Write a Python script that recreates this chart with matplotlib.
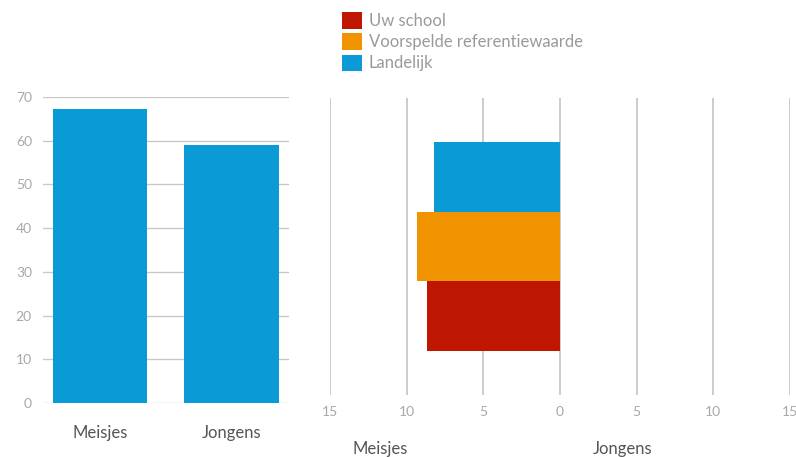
import matplotlib.pyplot as plt
from matplotlib.patches import Patch

plt.rcParams['font.family'] = ['Lato', 'DejaVu Sans']

# Linker grafiek: aandeel per geslacht
geslachten = ['Meisjes', 'Jongens']
aandeel = [67.3, 59.0]

# Rechter grafiek: waarden aan de kant van de meisjes
reeksen = ['Uw school', 'Voorspelde referentiewaarde', 'Landelijk']
meisjes_waarden = [8.7, 9.3, 8.2]
jongens_waarden = [0, 0, 0]
kleuren = ['#BE1600', '#F29400', '#0A9BD6']

grid_kleur = '#c8c8c8'
tick_kleur = '#a8a8a8'
label_kleur = '#555555'

fig = plt.figure(figsize=(7.96, 4.57), dpi=100)

# --- staafdiagram links ---
ax1 = fig.add_axes([43 / 796, 1 - 403 / 457, 246 / 796, 306 / 457])
ax1.bar(range(len(geslachten)), aandeel, width=0.715, color=kleuren[2], zorder=2)
ax1.set_xlim(-0.433, 1.437)
ax1.set_ylim(0, 70)
ax1.set_yticks(range(0, 71, 10))
ax1.yaxis.grid(True, color=grid_kleur, lw=1, zorder=0)
ax1.set_xticks(range(len(geslachten)))
ax1.set_xticklabels(geslachten, fontsize=12, color=label_kleur)
ax1.tick_params(axis='x', length=0, pad=16)
ax1.tick_params(axis='y', length=0, pad=8, labelsize=10, labelcolor=tick_kleur)
for s in ax1.spines.values():
    s.set_visible(False)

# --- piramide rechts ---
ax2 = fig.add_axes([330 / 796, 1 - 395 / 457, 460 / 796, 297 / 457])
for i, (m, j, k) in enumerate(zip(meisjes_waarden, jongens_waarden, kleuren)):
    ax2.barh(i, -m, height=1.0, color=k, zorder=2)
    ax2.barh(i, j, height=1.0, color=k, zorder=2)
ax2.set_xlim(-15, 15)
ax2.set_ylim(-1.13, 3.13)
ticks = list(range(-15, 16, 5))
ax2.set_xticks(ticks)
ax2.set_xticklabels([str(abs(t)) for t in ticks])
ax2.xaxis.grid(True, color=grid_kleur, lw=1.3, zorder=0)
ax2.set_yticks([])
ax2.tick_params(axis='x', length=0, pad=8, labelsize=10, labelcolor=tick_kleur)
for s in ax2.spines.values():
    s.set_visible(False)

fig.text(380 / 796, 1 - 449 / 457, 'Meisjes', ha='center', va='center',
         fontsize=12, color=label_kleur)
fig.text(623 / 796, 1 - 449 / 457, 'Jongens', ha='center', va='center',
         fontsize=12, color=label_kleur)

# legenda bovenaan
handles = [Patch(facecolor=k, edgecolor='none') for k in kleuren]
fig.legend(handles, reeksen, loc='upper left',
           bbox_to_anchor=(339 / 796, 1 - 9 / 457), frameon=False,
           fontsize=12, labelcolor='#9a9a9a', handlelength=1.15, handleheight=1.15,
           handletextpad=0.45, labelspacing=0.25, borderaxespad=0, borderpad=0.2)

fig.savefig('out.png', dpi=100)
